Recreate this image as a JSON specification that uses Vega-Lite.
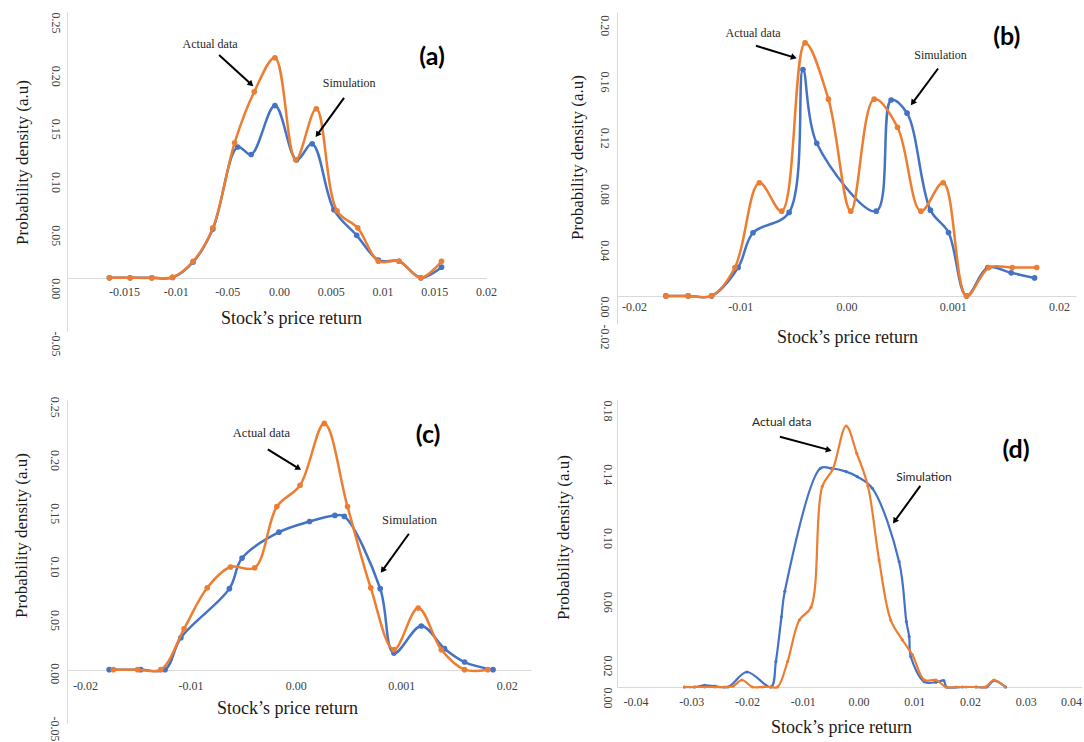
{
  "$schema": "https://vega.github.io/schema/vega-lite/v6.json",
  "padding": {"left": 11, "top": 12, "right": 0, "bottom": 0},
  "background": "white",
  "config": {
    "view": {"stroke": null},
    "axis": {"grid": false, "ticks": false, "tickSize": 0, "domainColor": "#d9d9d9", "domainWidth": 1, "labelFont": "Liberation Serif", "labelFontSize": 12, "labelColor": "#404040", "titleFont": "Liberation Serif", "titleFontWeight": "normal", "titleColor": "#1a1a1a", "labelOverlap": false, "labelFlush": false, "labelBound": false},
    "axisY": {"labelAngle": 90, "labelAlign": "left", "labelBaseline": "top", "labelPadding": 7, "titleFontSize": 17, "titleBaseline": "middle", "titleAngle": -90},
    "axisX": {"titleFontSize": 18, "titleBaseline": "middle"}
  },
  "datasets": {
    "a_sim": [{"x":-0.0164,"y":0},{"x":-0.0144,"y":0},{"x":-0.0123,"y":0},{"x":-0.0103,"y":0.0003},{"x":-0.0083,"y":0.015},{"x":-0.0064,"y":0.046},{"x":-0.0040,"y":0.123},{"x":-0.0027,"y":0.116},{"x":-0.0004,"y":0.162},{"x":0.0017,"y":0.111},{"x":0.0032,"y":0.126},{"x":0.0053,"y":0.064},{"x":0.0075,"y":0.040},{"x":0.0096,"y":0.0166},{"x":0.0116,"y":0.0156},{"x":0.0137,"y":0},{"x":0.0157,"y":0.010}],
    "a_act": [{"x":-0.0164,"y":0},{"x":-0.0144,"y":0},{"x":-0.0123,"y":0},{"x":-0.0103,"y":0.0006},{"x":-0.0083,"y":0.0156},{"x":-0.0064,"y":0.047},{"x":-0.0043,"y":0.127},{"x":-0.0024,"y":0.175},{"x":-0.0004,"y":0.207},{"x":0.0016,"y":0.111},{"x":0.0036,"y":0.159},{"x":0.0056,"y":0.063},{"x":0.0076,"y":0.047},{"x":0.0096,"y":0.0156},{"x":0.0116,"y":0.0156},{"x":0.0137,"y":0},{"x":0.0157,"y":0.0156}],
    "b_sim": [{"x":-0.0170,"y":0},{"x":-0.0149,"y":0},{"x":-0.0127,"y":0},{"x":-0.0102,"y":0.0202},{"x":-0.0088,"y":0.0449},{"x":-0.0054,"y":0.0594},{"x":-0.0041,"y":0.161},{"x":-0.0028,"y":0.1086},{"x":0.0028,"y":0.0603},{"x":0.0042,"y":0.1394},{"x":0.0057,"y":0.130},{"x":0.0079,"y":0.061},{"x":0.0096,"y":0.0451},{"x":0.0113,"y":0},{"x":0.0133,"y":0.0202},{"x":0.0155,"y":0.0164},{"x":0.0177,"y":0.0128}],
    "b_act": [{"x":-0.0170,"y":0},{"x":-0.0149,"y":0},{"x":-0.0127,"y":0},{"x":-0.0105,"y":0.0202},{"x":-0.0082,"y":0.0805},{"x":-0.0061,"y":0.0603},{"x":-0.0039,"y":0.180},{"x":-0.0017,"y":0.140},{"x":0.0004,"y":0.0603},{"x":0.0026,"y":0.140},{"x":0.0048,"y":0.120},{"x":0.0070,"y":0.0603},{"x":0.0091,"y":0.0805},{"x":0.0113,"y":0},{"x":0.0134,"y":0.0202},{"x":0.0156,"y":0.0202},{"x":0.0179,"y":0.0202}],
    "c_sim": [{"x":-0.0177,"y":0},{"x":-0.0147,"y":0},{"x":-0.0124,"y":0},{"x":-0.0109,"y":0.030},{"x":-0.0063,"y":0.076},{"x":-0.0051,"y":0.1047},{"x":-0.0016,"y":0.129},{"x":0.0013,"y":0.139},{"x":0.0037,"y":0.1447},{"x":0.0046,"y":0.1438},{"x":0.0080,"y":0.076},{"x":0.0093,"y":0.0156},{"x":0.0119,"y":0.041},{"x":0.0141,"y":0.0197},{"x":0.0160,"y":0.0072},{"x":0.0187,"y":0}],
    "c_act": [{"x":-0.0173,"y":0},{"x":-0.0150,"y":0},{"x":-0.0128,"y":0},{"x":-0.0106,"y":0.0384},{"x":-0.0084,"y":0.0769},{"x":-0.0062,"y":0.0963},{"x":-0.0039,"y":0.0956},{"x":-0.0018,"y":0.153},{"x":0.0004,"y":0.173},{"x":0.0027,"y":0.231},{"x":0.0049,"y":0.153},{"x":0.0071,"y":0.0769},{"x":0.0093,"y":0.0188},{"x":0.0116,"y":0.0578},{"x":0.0138,"y":0.0188},{"x":0.0160,"y":0},{"x":0.0182,"y":0}],
    "d_sim": [{"x":-0.0312,"y":0},{"x":-0.0294,"y":0},{"x":-0.0276,"y":0.001},{"x":-0.0258,"y":0.0006},{"x":-0.0234,"y":0},{"x":-0.0200,"y":0.0094},{"x":-0.0157,"y":0},{"x":-0.0148,"y":0.016},{"x":-0.0138,"y":0.044},{"x":-0.0132,"y":0.060},{"x":-0.0068,"y":0.1372},{"x":-0.0049,"y":0.1372},{"x":-0.0022,"y":0.1351},{"x":-0.0002,"y":0.1319},{"x":0.0025,"y":0.1246},{"x":0.0073,"y":0.0786},{"x":0.0086,"y":0.041},{"x":0.0091,"y":0.0316},{"x":0.0094,"y":0.019},{"x":0.0118,"y":0.0033},{"x":0.0139,"y":0.003},{"x":0.0153,"y":0.004},{"x":0.0158,"y":0},{"x":0.0187,"y":0},{"x":0.0211,"y":0},{"x":0.0230,"y":0},{"x":0.0243,"y":0.004},{"x":0.0264,"y":0}],
    "d_act": [{"x":-0.0312,"y":0},{"x":-0.0294,"y":0},{"x":-0.0276,"y":0},{"x":-0.0258,"y":0},{"x":-0.0240,"y":0},{"x":-0.0225,"y":0.0005},{"x":-0.0209,"y":0.0044},{"x":-0.0190,"y":0},{"x":-0.0172,"y":0},{"x":-0.0157,"y":0},{"x":-0.0145,"y":0},{"x":-0.0127,"y":0.016},{"x":-0.0106,"y":0.042},{"x":-0.0085,"y":0.050},{"x":-0.0065,"y":0.1257},{"x":-0.0046,"y":0.1366},{"x":-0.0022,"y":0.1637},{"x":-0.0003,"y":0.1466},{"x":0.0017,"y":0.1261},{"x":0.0037,"y":0.0797},{"x":0.0058,"y":0.042},{"x":0.0079,"y":0.0295},{"x":0.0097,"y":0.0201},{"x":0.0118,"y":0.0044},{"x":0.0139,"y":0.0044},{"x":0.0157,"y":0},{"x":0.0175,"y":0},{"x":0.0193,"y":0},{"x":0.0211,"y":0},{"x":0.0228,"y":0},{"x":0.0243,"y":0.0044},{"x":0.0263,"y":0}],
    "arrows": [
      {"panel":"a","id":"a1","x":-0.0027,"y":0.182,"x2":-0.0058,"y2":0.2096},
      {"panel":"a","id":"a2","x":0.0037,"y":0.1346,"x2":0.00628,"y2":0.1692},
      {"panel":"b","id":"b1","x":-0.00495,"y":0.1697,"x2":-0.00852,"y2":0.178},
      {"panel":"b","id":"b2","x":0.00622,"y":0.1373,"x2":0.00862,"y2":0.1618},
      {"panel":"c","id":"c1","x":0.00026,"y":0.1889,"x2":-0.00266,"y2":0.2066},
      {"panel":"c","id":"c2","x":0.00822,"y":0.0931,"x2":0.01072,"y2":0.1275},
      {"panel":"d","id":"d1","x":-0.00531,"y":0.1487,"x2":-0.01409,"y2":0.157},
      {"panel":"d","id":"d2","x":0.0065,"y":0.104,"x2":0.0111,"y2":0.1261}
    ],
    "notes": [
      {"panel":"a","kind":"note","text":"Actual data","x":-0.00667,"y":0.2199},
      {"panel":"a","kind":"note","text":"Simulation","x":0.00677,"y":0.1833},
      {"panel":"a","kind":"tag","text":"(a)","x":0.01479,"y":0.2077},
      {"panel":"b","kind":"note","text":"Actual data","x":-0.00879,"y":0.1874},
      {"panel":"b","kind":"note","text":"Simulation","x":0.00885,"y":0.1713},
      {"panel":"b","kind":"tag","text":"(b)","x":0.01508,"y":0.1843},
      {"panel":"c","kind":"note","text":"Actual data","x":-0.00326,"y":0.2222},
      {"panel":"c","kind":"note","text":"Simulation","x":0.01078,"y":0.14},
      {"panel":"c","kind":"tag","text":"(c)","x":0.01254,"y":0.2203},
      {"panel":"d","kind":"note","text":"Actual data","x":-0.01377,"y":0.1664},
      {"panel":"d","kind":"note","text":"Simulation","x":0.01175,"y":0.1319},
      {"panel":"d","kind":"tag","text":"(d)","x":0.02826,"y":0.1487}
    ]
  },
  "columns": 2,
  "align": "each",
  "bounds": "flush",
  "spacing": {"row": 69, "column": 86},
  "concat": [
    {
      "width": 419, "height": 319,
      "encoding": {
        "x": {"field": "x", "type": "quantitative", "scale": {"domain": [-0.0205, 0.0200], "nice": false, "zero": false},
          "axis": {"title": "Stock’s price return", "values": [-0.015,-0.01,-0.005,0,0.005,0.01,0.015,0.02], "offset": -53, "labelPadding": 8, "titleX": 224, "titleY": 40,
            "labelExpr": "datum.value < -0.0125 ? '-0.015' : datum.value < -0.0075 ? '-0.01' : datum.value < -0.0025 ? '-0.05' : datum.value < 0.0025 ? '0.00' : datum.value < 0.0075 ? '0.005' : datum.value < 0.0125 ? '0.01' : datum.value < 0.0175 ? '0.015' : '0.02'"}},
        "y": {"field": "y", "type": "quantitative", "scale": {"domain": [-0.05, 0.25], "nice": false, "zero": false},
          "axis": {"title": "Probability density (a.u)", "values": [-0.05,0,0.05,0.1,0.15,0.2,0.25], "titleX": -45, "titleY": 150,
            "labelExpr": "replace(format(datum.value, '.2f'), '\u2212', '-')"}}
      },
      "layer": [
        {"data": {"name": "a_sim"}, "mark": {"type": "line", "interpolate": "catmull-rom", "color": "#4472C4", "strokeWidth": 2.5}},
        {"data": {"name": "a_sim"}, "mark": {"type": "point", "filled": true, "opacity": 1, "color": "#4472C4", "size": 32}},
        {"data": {"name": "a_act"}, "mark": {"type": "line", "interpolate": "catmull-rom", "color": "#ED7D31", "strokeWidth": 2.5}},
        {"data": {"name": "a_act"}, "mark": {"type": "point", "filled": true, "opacity": 1, "color": "#ED7D31", "size": 32}},
        {"data": {"name": "arrows"}, "transform": [{"filter": "datum.panel == 'a'"}], "mark": {"type": "rule", "color": "black", "strokeWidth": 2}, "encoding": {"x2": {"field": "x2"}, "y2": {"field": "y2"}}},
        {"data": {"name": "arrows"}, "transform": [{"filter": "datum.id == 'a1'"}], "mark": {"type": "point", "shape": "triangle-up", "filled": true, "opacity": 1, "color": "black", "size": 45, "angle": 132}},
        {"data": {"name": "arrows"}, "transform": [{"filter": "datum.id == 'a2'"}], "mark": {"type": "point", "shape": "triangle-up", "filled": true, "opacity": 1, "color": "black", "size": 45, "angle": 216}},
        {"data": {"name": "notes"}, "transform": [{"filter": "datum.panel == 'a' && datum.kind == 'note'"}], "mark": {"type": "text", "font": "Liberation Serif", "fontSize": 12, "color": "#262626"}, "encoding": {"text": {"field": "text"}}},
        {"data": {"name": "notes"}, "transform": [{"filter": "datum.panel == 'a' && datum.kind == 'tag'"}], "mark": {"type": "text", "font": "Lato", "fontWeight": "bold", "fontSize": 25, "color": "black"}, "encoding": {"text": {"field": "text"}}}
      ]
    },
    {
      "width": 459, "height": 312,
      "encoding": {
        "x": {"field": "x", "type": "quantitative", "scale": {"domain": [-0.0216, 0.0216], "nice": false, "zero": false},
          "axis": {"title": "Stock’s price return", "values": [-0.02,-0.01,0,0.01,0.02], "offset": -28, "labelPadding": 5, "titleX": 230, "titleY": 41,
            "labelExpr": "datum.value < -0.015 ? '-0.02' : datum.value < -0.005 ? '-0.01' : datum.value < 0.005 ? '0.00' : datum.value < 0.015 ? '0.001' : '0.02'"}},
        "y": {"field": "y", "type": "quantitative", "scale": {"domain": [-0.02, 0.202], "nice": false, "zero": false},
          "axis": {"title": "Probability density (a.u)", "values": [-0.02,0,0.04,0.08,0.12,0.16,0.2], "titleX": -40, "titleY": 145, "labelPadding": 8,
            "labelExpr": "replace(format(datum.value, '.2f'), '\u2212', '-')"}}
      },
      "layer": [
        {"data": {"name": "b_sim"}, "mark": {"type": "line", "interpolate": "catmull-rom", "color": "#4472C4", "strokeWidth": 2.5}},
        {"data": {"name": "b_sim"}, "mark": {"type": "point", "filled": true, "opacity": 1, "color": "#4472C4", "size": 32}},
        {"data": {"name": "b_act"}, "mark": {"type": "line", "interpolate": "catmull-rom", "color": "#ED7D31", "strokeWidth": 2.5}},
        {"data": {"name": "b_act"}, "mark": {"type": "point", "filled": true, "opacity": 1, "color": "#ED7D31", "size": 32}},
        {"data": {"name": "arrows"}, "transform": [{"filter": "datum.panel == 'b'"}], "mark": {"type": "rule", "color": "black", "strokeWidth": 2}, "encoding": {"x2": {"field": "x2"}, "y2": {"field": "y2"}}},
        {"data": {"name": "arrows"}, "transform": [{"filter": "datum.id == 'b1'"}], "mark": {"type": "point", "shape": "triangle-up", "filled": true, "opacity": 1, "color": "black", "size": 45, "angle": 107}},
        {"data": {"name": "arrows"}, "transform": [{"filter": "datum.id == 'b2'"}], "mark": {"type": "point", "shape": "triangle-up", "filled": true, "opacity": 1, "color": "black", "size": 45, "angle": 216}},
        {"data": {"name": "notes"}, "transform": [{"filter": "datum.panel == 'b' && datum.kind == 'note'"}], "mark": {"type": "text", "font": "Liberation Serif", "fontSize": 12, "color": "#262626"}, "encoding": {"text": {"field": "text"}}},
        {"data": {"name": "notes"}, "transform": [{"filter": "datum.panel == 'b' && datum.kind == 'tag'"}], "mark": {"type": "text", "font": "Lato", "fontWeight": "bold", "fontSize": 25, "color": "black"}, "encoding": {"text": {"field": "text"}}}
      ]
    },
    {
      "width": 464, "height": 323,
      "encoding": {
        "x": {"field": "x", "type": "quantitative", "scale": {"domain": [-0.0217, 0.0223], "nice": false, "zero": false},
          "axis": {"title": "Stock’s price return", "values": [-0.02,-0.01,0,0.01,0.02], "offset": -53, "labelPadding": 10, "titleX": 220, "titleY": 38,
            "labelExpr": "datum.value < -0.015 ? '-0.02' : datum.value < -0.005 ? '-0.01' : datum.value < 0.005 ? '0.00' : datum.value < 0.015 ? '0.001' : '0.02'"}},
        "y": {"field": "y", "type": "quantitative", "scale": {"domain": [-0.05, 0.253], "nice": false, "zero": false},
          "axis": {"title": "Probability density (a.u)", "values": [-0.05,0,0.05,0.1,0.15,0.2,0.25], "titleX": -46, "titleY": 135, "labelPadding": 8, "labelOffset": -7,
            "labelExpr": "replace(format(datum.value, '.2f'), '\u2212', '-')"}}
      },
      "layer": [
        {"data": {"name": "c_sim"}, "mark": {"type": "line", "interpolate": "catmull-rom", "color": "#4472C4", "strokeWidth": 2.5}},
        {"data": {"name": "c_sim"}, "mark": {"type": "point", "filled": true, "opacity": 1, "color": "#4472C4", "size": 32}},
        {"data": {"name": "c_act"}, "mark": {"type": "line", "interpolate": "catmull-rom", "color": "#ED7D31", "strokeWidth": 2.5}},
        {"data": {"name": "c_act"}, "mark": {"type": "point", "filled": true, "opacity": 1, "color": "#ED7D31", "size": 32}},
        {"data": {"name": "arrows"}, "transform": [{"filter": "datum.panel == 'c'"}], "mark": {"type": "rule", "color": "black", "strokeWidth": 2}, "encoding": {"x2": {"field": "x2"}, "y2": {"field": "y2"}}},
        {"data": {"name": "arrows"}, "transform": [{"filter": "datum.id == 'c1'"}], "mark": {"type": "point", "shape": "triangle-up", "filled": true, "opacity": 1, "color": "black", "size": 45, "angle": 122}},
        {"data": {"name": "arrows"}, "transform": [{"filter": "datum.id == 'c2'"}], "mark": {"type": "point", "shape": "triangle-up", "filled": true, "opacity": 1, "color": "black", "size": 45, "angle": 216}},
        {"data": {"name": "notes"}, "transform": [{"filter": "datum.panel == 'c' && datum.kind == 'note'"}], "mark": {"type": "text", "font": "Liberation Serif", "fontSize": 12.5, "color": "#262626"}, "encoding": {"text": {"field": "text"}}},
        {"data": {"name": "notes"}, "transform": [{"filter": "datum.panel == 'c' && datum.kind == 'tag'"}], "mark": {"type": "text", "font": "Lato", "fontWeight": "bold", "fontSize": 25, "color": "black"}, "encoding": {"text": {"field": "text"}}}
      ]
    },
    {
      "width": 465, "height": 287,
      "encoding": {
        "x": {"field": "x", "type": "quantitative", "scale": {"domain": [-0.0433, 0.0401], "nice": false, "zero": false},
          "axis": {"title": "Stock’s price return", "values": [-0.04,-0.03,-0.02,-0.01,0,0.01,0.02,0.03,0.04], "labelPadding": 9, "labelFlush": 2, "titleX": 224, "titleY": 40,
            "labelExpr": "replace(format(datum.value, '.2f'), '\u2212', '-')"}},
        "y": {"field": "y", "type": "quantitative", "scale": {"domain": [0, 0.18], "nice": false, "zero": false},
          "axis": {"title": "Probability density (a.u)", "values": [0,0.02,0.06,0.1,0.14,0.18], "titleX": -54, "titleY": 137, "labelPadding": 5,
            "labelExpr": "replace(format(datum.value, '.2f'), '\u2212', '-')"}}
      },
      "layer": [
        {"data": {"name": "d_sim"}, "mark": {"type": "line", "interpolate": "catmull-rom", "color": "#4472C4", "strokeWidth": 2.2}},
        {"data": {"name": "d_sim"}, "mark": {"type": "point", "filled": true, "opacity": 1, "color": "#4472C4", "size": 10}},
        {"data": {"name": "d_act"}, "mark": {"type": "line", "interpolate": "catmull-rom", "color": "#ED7D31", "strokeWidth": 2.2}},
        {"data": {"name": "d_act"}, "mark": {"type": "point", "filled": true, "opacity": 1, "color": "#ED7D31", "size": 10}},
        {"data": {"name": "arrows"}, "transform": [{"filter": "datum.panel == 'd'"}], "mark": {"type": "rule", "color": "black", "strokeWidth": 2}, "encoding": {"x2": {"field": "x2"}, "y2": {"field": "y2"}}},
        {"data": {"name": "arrows"}, "transform": [{"filter": "datum.id == 'd1'"}], "mark": {"type": "point", "shape": "triangle-up", "filled": true, "opacity": 1, "color": "black", "size": 45, "angle": 105}},
        {"data": {"name": "arrows"}, "transform": [{"filter": "datum.id == 'd2'"}], "mark": {"type": "point", "shape": "triangle-up", "filled": true, "opacity": 1, "color": "black", "size": 45, "angle": 216}},
        {"data": {"name": "notes"}, "transform": [{"filter": "datum.panel == 'd' && datum.kind == 'note'"}], "mark": {"type": "text", "font": "Lato", "fontSize": 12, "color": "#262626"}, "encoding": {"text": {"field": "text"}}},
        {"data": {"name": "notes"}, "transform": [{"filter": "datum.panel == 'd' && datum.kind == 'tag'"}], "mark": {"type": "text", "font": "Lato", "fontWeight": "bold", "fontSize": 25, "color": "black"}, "encoding": {"text": {"field": "text"}}}
      ]
    }
  ]
}
